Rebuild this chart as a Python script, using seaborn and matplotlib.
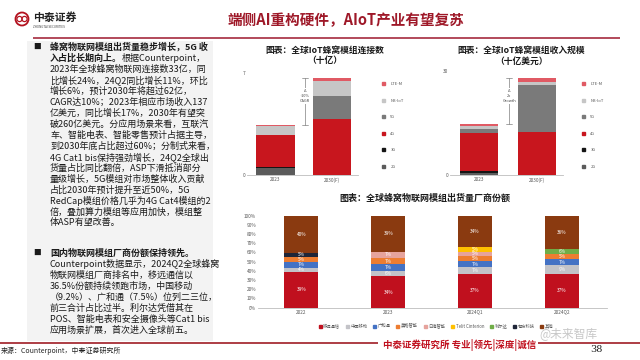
import numpy as np
import matplotlib
matplotlib.use('Agg')
import matplotlib.pyplot as plt
from matplotlib.patches import Rectangle, Circle, Patch
import seaborn as sns

# 数据准备：全球IoT蜂窝模组连接数（十亿）与收入规模（十亿美元）
years = ['2023', '2030(F)']
techs = ['2G', '3G', '4G', '5G', 'NB-IoT', 'LTE-M']
tech_colors = ['#5b5b5b', '#151515', '#c8161e', '#7a7a7a', '#c6c6c6', '#e05a64']
conn_2023 = [0.50, 0.05, 2.20, 0.02, 0.60, 0.08]
conn_2030 = [0.00, 0.00, 3.85, 1.60, 1.00, 0.22]
rev_2023 = [0.6, 0.5, 11.0, 1.3, 0.7, 0.6]
rev_2030 = [0.0, 0.0, 12.5, 13.4, 1.0, 1.1]

# 数据准备：全球蜂窝物联网模组出货量厂商份额（%）
periods = ['2022', '2023', '2024Q1', '2024Q2']
vendors = ['移远通信', '中国移动', '广和通', '美格智能', '日海智能',
           'Telit Cinterion', '利尔达', '有方科技', '其他']
vendor_colors = ['#c0101e', '#c3c3c8', '#4472c4', '#ed7d31', '#e6a39c',
                 '#ffc000', '#70ad47', '#1f2638', '#8a3a10']
share_quectel = [39, 34, 37, 37]
share_cmcc = [4, 6, 7, 9]
share_fibocom = [7, 7, 7, 7]
share_meig = [5, 7, 5, 5]
share_sunsea = [0, 7, 5, 0]
share_telit = [0, 0, 5, 0]
share_lierda = [0, 0, 0, 6]
share_neoway = [5, 0, 0, 0]
share_others = [40, 39, 34, 36]

# 左侧文字
para1 = [
    [("蜂窝物联网模组出货量稳步增长，5G 收", True)],
    [("入占比长期向上。", True), ("根据Counterpoint，", False)],
    [("2023年全球蜂窝物联网连接数33亿，同", False)],
    [("比增长24%，24Q2同比增长11%，环比", False)],
    [("增长6%，预计2030年将超过62亿，", False)],
    [("CAGR达10%；2023年相应市场收入137", False)],
    [("亿美元，同比增长17%，2030年有望突", False)],
    [("破260亿美元。分应用场景来看，互联汽", False)],
    [("车、智能电表、智能零售预计占据主导，", False)],
    [("到2030年底占比超过60%；分制式来看，", False)],
    [("4G Cat1 bis保持强劲增长，24Q2全球出", False)],
    [("货量占比同比翻倍，ASP下滑抵消部分", False)],
    [("量级增长，5G模组对市场整体收入贡献", False)],
    [("占比2030年预计提升至近50%，5G", False)],
    [("RedCap模组价格几乎为4G Cat4模组的2", False)],
    [("倍，叠加算力模组等应用加快，模组整", False)],
    [("体ASP有望改善。", False)],
]
para2 = [
    [("国内物联网模组厂商份额保持领先。", True)],
    [("Counterpoint数据显示，2024Q2全球蜂窝", False)],
    [("物联网模组厂商排名中，移远通信以", False)],
    [("36.5%份额持续领跑市场，中国移动", False)],
    [("（9.2%）、广和通（7.5%）位列二三位，", False)],
    [("前三合计占比过半。利尔达凭借其在", False)],
    [("POS、智能电表和安全摄像头等Cat1 bis", False)],
    [("应用场景扩展，首次进入全球前五。", False)],
]

sns.set_theme(style='white')
plt.rcParams['font.family'] = ['Noto Sans CJK SC', 'DejaVu Sans']

W, H = 640, 360
fig = plt.figure(figsize=(6.4, 3.6), dpi=100)
fig.patch.set_facecolor('white')

# 背景层，坐标=像素
bg = fig.add_axes([0, 0, 1, 1])
bg.set_xlim(0, W)
bg.set_ylim(H, 0)
bg.axis('off')


def px_axes(x0, y0, x1, y1):
    return fig.add_axes([x0 / W, 1 - y1 / H, (x1 - x0) / W, (y1 - y0) / H])


# 页眉
bg.add_patch(Circle((22, 19), 6.5, fill=False, edgecolor='#b3121f', lw=1.3))
bg.add_patch(Circle((19.5, 19), 2.6, fill=False, edgecolor='#b3121f', lw=0.9))
bg.add_patch(Circle((24.5, 19), 2.6, fill=False, edgecolor='#b3121f', lw=0.9))
bg.text(33, 17.5, '中泰证券', fontsize=7.8, fontweight='bold', color='#222222', va='center')
bg.text(33, 27, 'ZHONGTAI SECURITIES', fontsize=2.2, color='#444444', va='center')
bg.text(346, 20, '端侧AI重构硬件，AIoT产业有望复苏', fontsize=10.5, fontweight='bold',
        color='#9e1828', ha='center', va='center')
bg.plot([33, 620], [38, 38], color='#b24a5a', lw=1.4, solid_capstyle='butt')

# 左侧面板
bg.add_patch(Rectangle((27, 41), 186, 300, facecolor='#f3f3f3', edgecolor='none'))

FS = 6.5


def text_line(x, y, parts):
    prev = None
    for txt, bold in parts:
        kw = dict(fontsize=FS, fontweight='bold' if bold else 'normal', color='#1a1a1a')
        if prev is None:
            prev = bg.text(x, y, txt, ha='left', va='center', **kw)
        else:
            prev = bg.annotate(txt, xy=(1, 0.5), xycoords=prev, ha='left', va='center', **kw)


for i, parts in enumerate(para1):
    text_line(50, 47 + 11.0 * i, parts)
for i, parts in enumerate(para2):
    text_line(50, 253 + 11.0 * i, parts)
bg.text(37, 47, '■', fontsize=5.5, color='#1a1a1a', ha='center', va='center')
bg.text(37, 253, '■', fontsize=5.5, color='#1a1a1a', ha='center', va='center')

# 页脚
bg.plot([0, 378], [343, 343], color='#a01c25', lw=1.2, solid_capstyle='butt')
bg.plot([538, 640], [343, 343], color='#a01c25', lw=1.2, solid_capstyle='butt')
bg.text(1, 351, '来源：Counterpoint，中泰证券研究所', fontsize=5, color='#222222', va='center')
bg.text(460, 345, '中泰证券研究所 专业|领先|深度|诚信', fontsize=6.8, fontweight='bold',
        color='#c0101e', ha='center', va='center')
bg.text(568, 335, '@未来智库', fontsize=8.5, color='#9a9a9a', alpha=0.55, ha='center', va='center')
bg.text(596, 350, '38', fontsize=7, color='#222222', ha='center', va='center', family='DejaVu Serif')

# 图表标题
bg.text(325, 50, '图表：全球IoT蜂窝模组连接数', fontsize=6.3, fontweight='bold', ha='center', va='center', color='#1a1a1a')
bg.text(325, 61, '（十亿）', fontsize=6.3, fontweight='bold', ha='center', va='center', color='#1a1a1a')
bg.text(521, 50, '图表：全球IoT蜂窝模组收入规模', fontsize=6.3, fontweight='bold', ha='center', va='center', color='#1a1a1a')
bg.text(521, 61, '（十亿美元）', fontsize=6.3, fontweight='bold', ha='center', va='center', color='#1a1a1a')
bg.text(425, 198, '图表：全球蜂窝物联网模组出货量厂商份额', fontsize=6.5, fontweight='bold', ha='center', va='center', color='#1a1a1a')


def stacked(ax, cats, series, colors, width):
    cum = np.cumsum(np.array(series, dtype=float), axis=0)
    for i in range(len(series) - 1, -1, -1):
        sns.barplot(x=cats, y=cum[i], color=colors[i], width=width, saturation=1,
                    linewidth=0, errorbar=None, ax=ax)
    return cum


def style_ax(ax):
    ax.set_facecolor('none')
    for s in ['top', 'right', 'left']:
        ax.spines[s].set_visible(False)
    ax.spines['bottom'].set_color('#bdbdbd')
    ax.spines['bottom'].set_linewidth(0.6)
    ax.tick_params(axis='both', labelsize=3.4, colors='#595959', length=0, pad=1.5)
    ax.set_xlabel('')
    ax.set_ylabel('')


def top_chart(box, s23, s30, ymax, note, leg_xy):
    ax = px_axes(*box)
    series = [[a, b] for a, b in zip(s23, s30)]
    cum = stacked(ax, years, series, tech_colors, 0.67)
    style_ax(ax)
    ax.set_ylim(0, ymax)
    ax.set_yticks([0, ymax])
    ax.set_xlim(-0.5, 1.45)
    t0, t1 = cum[-1][0], cum[-1][1]
    ax.plot([0.52, 0.52], [t0, t1], color='#808080', lw=0.5)
    ax.plot([0.47, 0.57], [t0, t0], color='#808080', lw=0.5)
    ax.plot([0.47, 0.57], [t1, t1], color='#808080', lw=0.5)
    ax.text(0.52, (t0 + t1) / 2 + ymax * 0.05, note, fontsize=2.8, color='#404040', ha='center',
            va='center', linespacing=1.4, bbox=dict(facecolor='white', edgecolor='none', pad=0.6))
    handles = [Patch(color=c, label=t) for t, c in zip(techs, tech_colors)][::-1]
    ax.legend(handles=handles, loc='upper left', bbox_to_anchor=leg_xy, bbox_transform=bg.transData,
              fontsize=3, labelspacing=3.0, handlelength=0.8, handleheight=0.8, handletextpad=1.2,
              frameon=False, borderpad=0, labelcolor='#595959')
    return ax


top_chart((247, 73, 358, 175), conn_2023, conn_2030, 7, 'Δ\n~10%\nCAGR', (380, 80))
top_chart((450, 71, 563, 175), rev_2023, rev_2030, 30, 'Δ\n2x\nGrowth', (580, 80))

# 厂商份额
ax3 = px_axes(258, 215.7, 607, 307.7)
shares = [share_quectel, share_cmcc, share_fibocom, share_meig, share_sunsea,
          share_telit, share_lierda, share_neoway, share_others]
cum = stacked(ax3, periods, shares, vendor_colors, 0.39)
style_ax(ax3)
ax3.set_ylim(0, 100)
ax3.set_yticks(range(0, 101, 10))
ax3.set_yticklabels([f'{v}%' for v in range(0, 101, 10)])
ax3.set_xlim(-0.5, 3.52)
ax3.set_xticks([0.5, 1.5, 2.5], minor=True)
ax3.tick_params(axis='x', which='minor', length=2, color='#bdbdbd', width=0.5, direction='out')
for i, vals in enumerate(shares):
    for j, v in enumerate(vals):
        if v >= 3:
            ax3.text(j, cum[i][j] - v / 2, f'{v}%', fontsize=3.4, color='white', ha='center', va='center')
handles = [Patch(color=c, label=v) for v, c in zip(vendors, vendor_colors)]
ax3.legend(handles=handles, loc='center', bbox_to_anchor=(0.51, -0.2), ncol=9, fontsize=3.1,
           frameon=False, handlelength=0.7, handleheight=0.7, handletextpad=0.4,
           columnspacing=1.3, labelcolor='#595959')

fig.savefig('out.png', dpi=100)
